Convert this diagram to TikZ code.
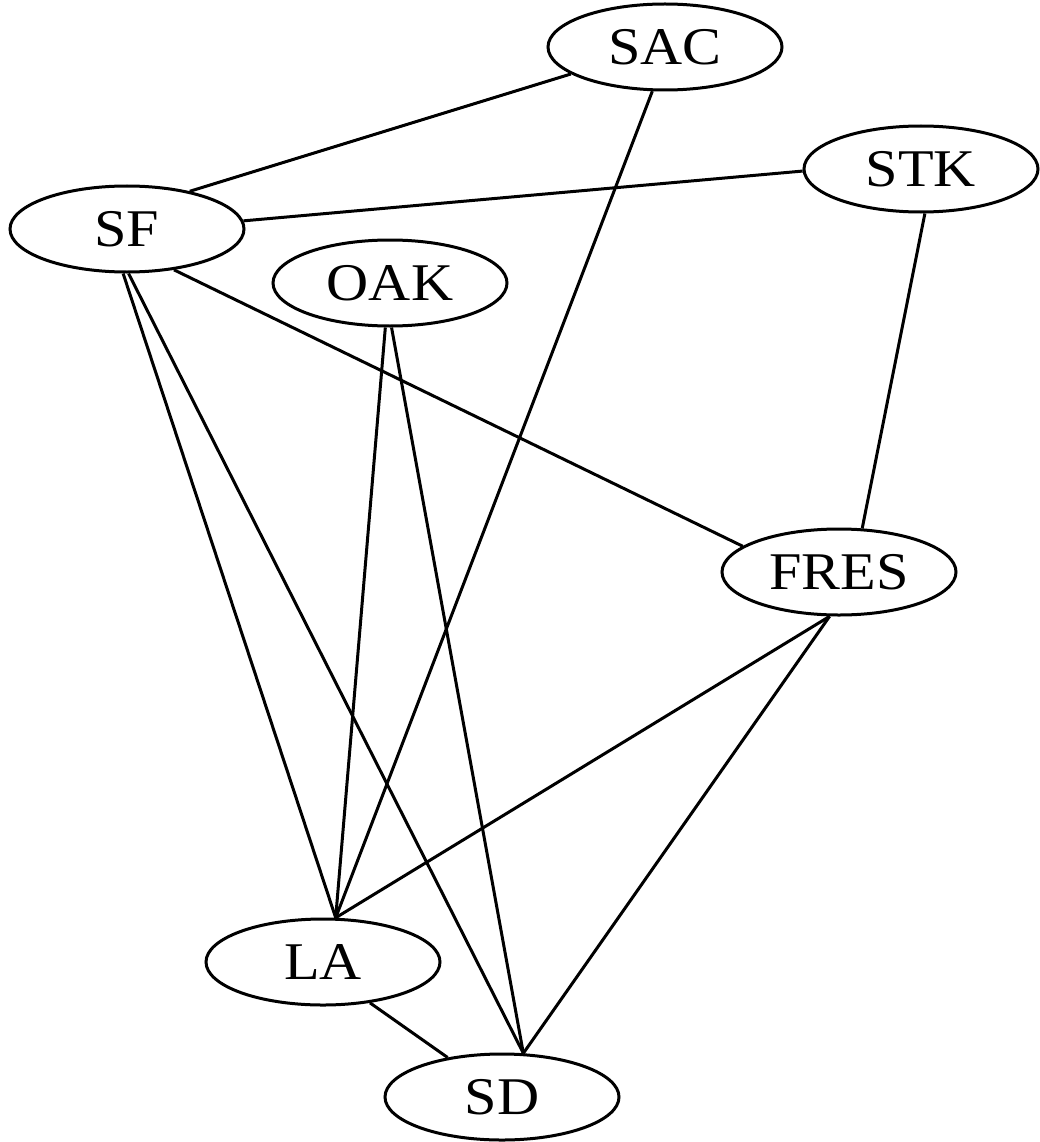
\documentclass[tikz,border=0pt]{standalone}
\usepackage{fontspec}
\setmainfont{Liberation Serif}[FakeStretch=1.1]
\usetikzlibrary{shapes.geometric}
\begin{document}
\begin{tikzpicture}[x=1pt,y=-1pt,
  city/.style={ellipse, draw, line width=3pt, minimum width=234pt,
    minimum height=86pt, inner sep=0pt, font=\fontsize{53}{60}\selectfont},
  link/.style={line width=3pt}]
\useasboundingbox (0,0) rectangle (1040,1142);

% cities
\node[city] (SAC)  at (665,47)   {SAC};
\node[city] (STK)  at (921,169)  {STK};
\node[city] (SF)   at (127,229)  {SF};
\node[city] (OAK)  at (390,283)  {OAK};
\node[city] (FRES) at (839,572)  {FRES};
\node[city] (LA)   at (323,962)  {LA};
\node[city] (SD)   at (502,1097) {SD};

% links
\draw[link] (SF.31)    -- (SAC.196);
\draw[link] (SF.4)     -- (STK.181);
\draw[link] (SAC.254)  -- (LA.74);
\draw[link] (STK.-85)  -- (FRES.62);
\draw[link] (SF.-41)   -- (FRES.165);
\draw[link] (SF.-95)   -- (LA.74);
\draw[link] (SF.-88)   -- (SD.64);
\draw[link] (OAK.-96)  -- (LA.74);
\draw[link] (OAK.-88)  -- (SD.64);
\draw[link] (FRES.258) -- (LA.74);
\draw[link] (FRES.258) -- (SD.64);
\draw[link] (LA.-41)   -- (SD.144);
\end{tikzpicture}
\end{document}
